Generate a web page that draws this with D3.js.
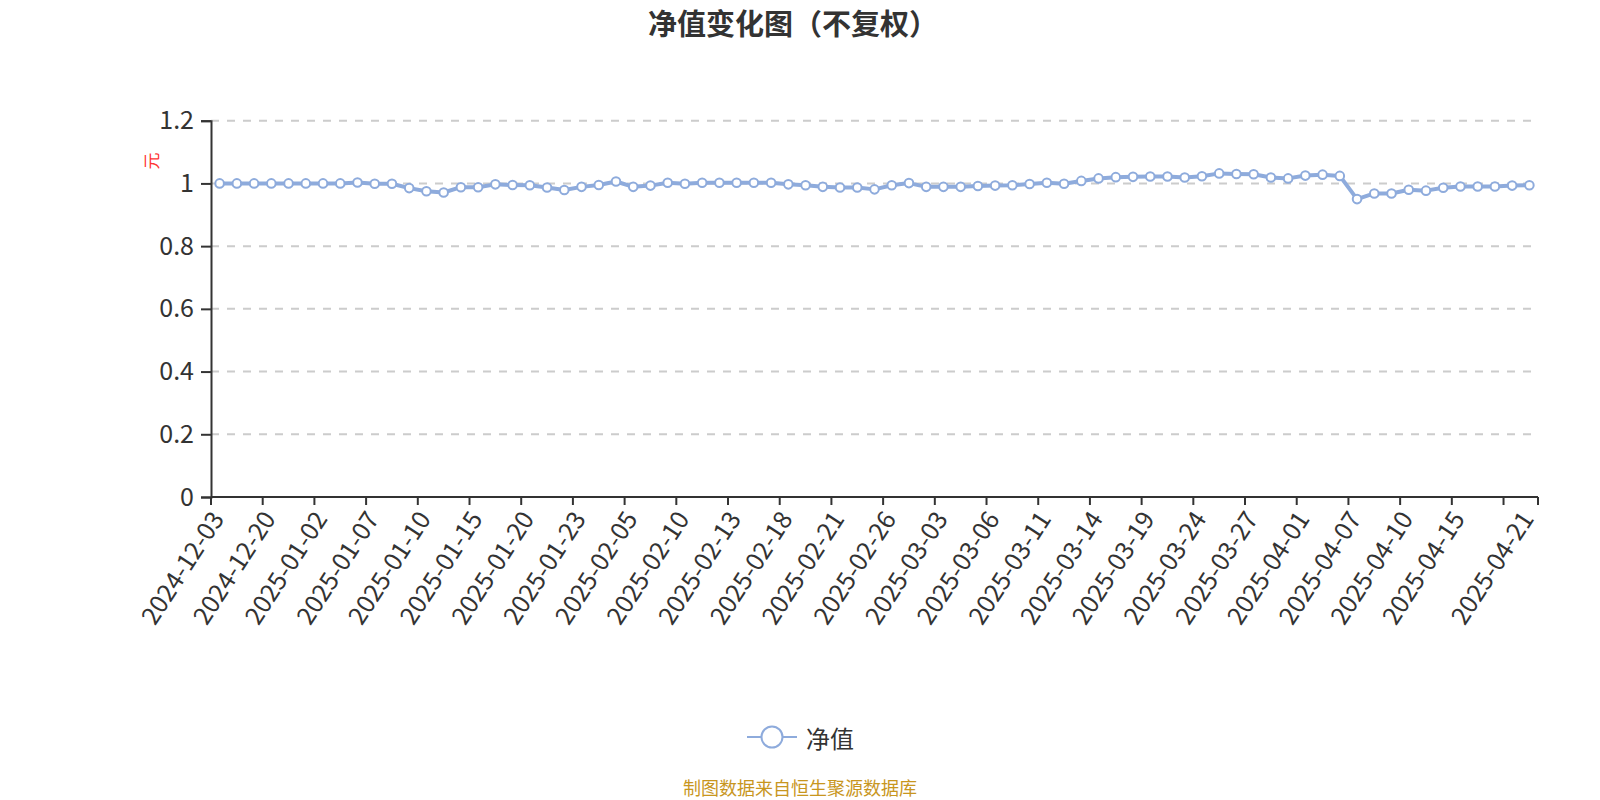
<!DOCTYPE html>
<html>
<head>
<meta charset="utf-8">
<script src="https://cdn.jsdelivr.net/npm/d3@7/dist/d3.min.js"></script>
<style>
  html, body { margin: 0; padding: 0; background: #fff; }
  svg { display: block; font-family: "Noto Sans CJK SC", "Noto Sans", sans-serif; }
</style>
</head>
<body>
<svg id="chart" width="1600" height="800"></svg>
<script>
const dates = [
  "2024-12-03","2024-12-06","2024-12-13","2024-12-20","2024-12-27","2024-12-31",
  "2025-01-02","2025-01-03","2025-01-06","2025-01-07","2025-01-08","2025-01-09",
  "2025-01-10","2025-01-13","2025-01-14","2025-01-15","2025-01-16","2025-01-17",
  "2025-01-20","2025-01-21","2025-01-22","2025-01-23","2025-01-24","2025-01-27",
  "2025-02-05","2025-02-06","2025-02-07","2025-02-10","2025-02-11","2025-02-12",
  "2025-02-13","2025-02-14","2025-02-17","2025-02-18","2025-02-19","2025-02-20",
  "2025-02-21","2025-02-24","2025-02-25","2025-02-26","2025-02-27","2025-02-28",
  "2025-03-03","2025-03-04","2025-03-05","2025-03-06","2025-03-07","2025-03-10",
  "2025-03-11","2025-03-12","2025-03-13","2025-03-14","2025-03-17","2025-03-18",
  "2025-03-19","2025-03-20","2025-03-21","2025-03-24","2025-03-25","2025-03-26",
  "2025-03-27","2025-03-28","2025-03-31","2025-04-01","2025-04-02","2025-04-03",
  "2025-04-07","2025-04-08","2025-04-09","2025-04-10","2025-04-11","2025-04-14",
  "2025-04-15","2025-04-16","2025-04-17","2025-04-18","2025-04-21"
];
const navValues = [
  1.000,1.000,1.000,1.000,1.000,1.000,
  1.000,1.000,1.003,0.999,0.999,0.985,
  0.975,0.971,0.988,0.988,0.997,0.995,
  0.994,0.987,0.979,0.989,0.995,1.006,
  0.989,0.993,1.002,0.999,1.002,1.002,
  1.002,1.002,1.002,0.997,0.994,0.989,
  0.987,0.987,0.981,0.994,1.001,0.989,
  0.989,0.989,0.992,0.993,0.994,0.998,
  1.002,0.999,1.008,1.016,1.020,1.021,
  1.022,1.022,1.019,1.023,1.032,1.030,
  1.029,1.019,1.016,1.025,1.028,1.024,
  0.950,0.968,0.968,0.980,0.977,0.986,
  0.990,0.990,0.990,0.993,0.994
];
const yTicks = [0, 0.2, 0.4, 0.6, 0.8, 1, 1.2];
const shownLabels = [
  "2024-12-03","2024-12-20","2025-01-02","2025-01-07","2025-01-10","2025-01-15",
  "2025-01-20","2025-01-23","2025-02-05","2025-02-10","2025-02-13","2025-02-18",
  "2025-02-21","2025-02-26","2025-03-03","2025-03-06","2025-03-11","2025-03-14",
  "2025-03-19","2025-03-24","2025-03-27","2025-04-01","2025-04-07","2025-04-10",
  "2025-04-15","2025-04-21"
];
const titleText = "净值变化图（不复权）";
const seriesName = "净值";
const yUnit = "元";
const sourceText = "制图数据来自恒生聚源数据库";

const svg = d3.select("#chart");
const plotLeft = 211, plotRight = 1538, plotTop = 120.7, plotBottom = 497;
const lineColor = "#8eabdc";
const textColor = "#333";

const x = d3.scaleBand().domain(dates).range([plotLeft, plotRight]).paddingInner(0).paddingOuter(0);
const y = d3.scaleLinear().domain([0, 1.2]).range([plotBottom, plotTop]);
const cx = d => x(d) + x.bandwidth() / 2;

// title
svg.append("text").attr("x", 793).attr("y", 22).attr("text-anchor", "middle")
  .attr("dominant-baseline", "central").attr("font-size", 29).attr("font-weight", "bold")
  .attr("fill", textColor).text(titleText);

// grid lines
svg.append("g").selectAll("line").data(yTicks.filter(t => t > 0)).join("line")
  .attr("x1", plotLeft).attr("x2", plotRight).attr("y1", d => y(d)).attr("y2", d => y(d))
  .attr("stroke", "#cccccc").attr("stroke-width", 2).attr("stroke-dasharray", "8,8");

// y axis
const yAxis = d3.axisLeft(y).tickValues(yTicks).tickSize(10).tickPadding(7)
  .tickFormat(d => d3.format("~g")(d));
const gy = svg.append("g").attr("transform", `translate(${plotLeft},0)`).call(yAxis);
gy.select(".domain").attr("stroke", textColor).attr("stroke-width", 2);
gy.selectAll(".tick line").attr("stroke", textColor).attr("stroke-width", 2);
gy.selectAll(".tick text").attr("font-size", 25).attr("fill", textColor)
  .attr("font-family", "'Noto Sans CJK SC', sans-serif");

// y unit
svg.append("text").attr("transform", `translate(150,161) rotate(-90)`)
  .attr("text-anchor", "middle").attr("dominant-baseline", "central")
  .attr("font-size", 17).attr("fill", "#ff3333").text(yUnit);

// x axis
const tickIdx = d3.range(0, dates.length, 3);
const gx = svg.append("g").attr("transform", `translate(0,${plotBottom})`);
gx.append("line").attr("x1", plotLeft).attr("x2", plotRight).attr("y1", 0).attr("y2", 0)
  .attr("stroke", textColor).attr("stroke-width", 2);
gx.selectAll("line.tk").data(tickIdx.map(i => x(dates[i])).concat([plotRight])).join("line")
  .attr("class", "tk").attr("x1", d => d).attr("x2", d => d).attr("y1", 0).attr("y2", 8)
  .attr("stroke", textColor).attr("stroke-width", 2);
gx.selectAll("text").data(shownLabels).join("text")
  .attr("transform", d => `translate(${cx(d) - 2},17) rotate(-57)`)
  .attr("text-anchor", "end").attr("dy", "0.35em")
  .attr("font-size", 25).attr("fill", textColor).text(d => d);

// line
const line = d3.line().x((d, i) => cx(dates[i])).y(d => y(d));
svg.append("path").datum(navValues).attr("d", line).attr("fill", "none")
  .attr("stroke", lineColor).attr("stroke-width", 4).attr("stroke-linejoin", "round");
svg.append("g").selectAll("circle").data(navValues).join("circle")
  .attr("cx", (d, i) => cx(dates[i])).attr("cy", d => y(d)).attr("r", 4.3)
  .attr("fill", "#fff").attr("stroke", lineColor).attr("stroke-width", 2);

// legend
const lg = svg.append("g");
lg.append("line").attr("x1", 747).attr("x2", 797).attr("y1", 737).attr("y2", 737)
  .attr("stroke", lineColor).attr("stroke-width", 2);
lg.append("circle").attr("cx", 772).attr("cy", 737).attr("r", 10.5)
  .attr("fill", "#fff").attr("stroke", lineColor).attr("stroke-width", 2);
lg.append("text").attr("x", 806).attr("y", 737).attr("dominant-baseline", "central")
  .attr("font-size", 24).attr("fill", textColor).text(seriesName);

// source
svg.append("text").attr("x", 800).attr("y", 787).attr("text-anchor", "middle")
  .attr("dominant-baseline", "central").attr("font-size", 18).attr("fill", "#c8961e")
  .text(sourceText);
</script>
</body>
</html>
